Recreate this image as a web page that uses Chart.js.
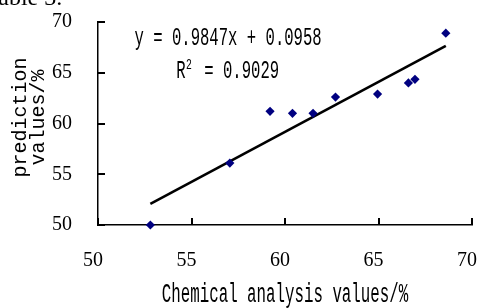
<!DOCTYPE html>
<html>
<head>
<meta charset="utf-8">
<script src="https://cdn.jsdelivr.net/npm/chart.js@4/dist/chart.umd.min.js"></script>
<style>
  html, body { margin: 0; padding: 0; background: #fff; }
  #wrap { width: 477px; height: 308px; position: relative; }
</style>
</head>
<body>
<div id="wrap"><canvas id="c"></canvas></div>
<script>
// ---- data ----
const chemicalValues   = [52.8, 57.05, 59.2, 60.4, 61.5, 62.7, 64.95, 66.6, 66.95, 68.6];
const predictionValues = [50.0, 56.1, 61.2, 61.0, 61.0, 62.6, 62.9, 64.0, 64.35, 68.9];
const xTicks = [50, 55, 60, 65, 70];
const yTicks = [50, 55, 60, 65, 70];
const trendSlope = 0.9847;
const trendIntercept = 0.0958;
const equationText = 'y = 0.9847x + 0.0958';
const r2Text = '0.9029';
const xTitle = 'Chemical analysis values/%';
const yTitle = ['prediction', 'values/%'];
const captionText = 'Table 3.';

// annotation anchors in data units
const eqAnchor = { x: 51.95, y: 67.75 };
const r2Anchor = { x: 54.18, y: 64.5 };

const points = chemicalValues.map((x, i) => ({ x: x, y: predictionValues[i] }));
const xMinData = Math.min(...chemicalValues);
const xMaxData = Math.max(...chemicalValues);
const trendPoints = [xMinData, xMaxData].map(x => ({ x: x, y: trendSlope * x + trendIntercept }));

function drawScaledText(ctx, text, x, y, size, sx, align) {
  ctx.save();
  ctx.translate(x, y);
  ctx.scale(sx, 1);
  ctx.font = size + 'px "Liberation Mono"';
  ctx.textBaseline = 'alphabetic';
  ctx.textAlign = align || 'left';
  ctx.fillStyle = '#000';
  ctx.fillText(text, 0, 0);
  const w = ctx.measureText(text).width * sx;
  ctx.restore();
  return w;
}

const decorPlugin = {
  id: 'decor',
  afterDraw(chart) {
    const ctx = chart.ctx;
    const xs = chart.scales.x, ys = chart.scales.y;
    const area = chart.chartArea;
    ctx.save();
    ctx.fillStyle = '#000';
    // inward tick marks
    yTicks.forEach(v => {
      const py = Math.round(ys.getPixelForValue(v));
      ctx.fillRect(Math.round(area.left), py - 1, 7, 2);
    });
    xTicks.forEach(v => {
      const px = Math.round(xs.getPixelForValue(v));
      ctx.fillRect(px - 1, Math.round(area.bottom) - 7, 2, 7);
    });
    // equation annotation
    const sx = 0.6, fs = 26;
    drawScaledText(ctx, equationText, xs.getPixelForValue(eqAnchor.x), ys.getPixelForValue(eqAnchor.y), fs, sx);
    let px = xs.getPixelForValue(r2Anchor.x);
    const py = ys.getPixelForValue(r2Anchor.y);
    px += drawScaledText(ctx, 'R', px, py, fs, sx);
    drawScaledText(ctx, '2', px + 0.5, py - 9, 15, 0.65);
    px += 9.4;
    drawScaledText(ctx, ' = ' + r2Text, px, py, fs, sx);
    // x axis title (tall, narrow monospace like the reference)
    drawScaledText(ctx, xTitle, (area.left + area.right) / 2, chart.height - 6, 27, 0.585, 'center');
    // cropped caption at the very top
    ctx.font = '24px "Liberation Serif"';
    ctx.fillStyle = '#000';
    ctx.textBaseline = 'alphabetic';
    ctx.textAlign = 'left';
    ctx.fillText(captionText, -14.7, 5);
    ctx.restore();
  }
};

new Chart(document.getElementById('c'), {
  type: 'scatter',
  data: {
    datasets: [
      {
        label: 'samples',
        data: points,
        pointStyle: 'rectRot',
        pointRadius: 4.6,
        pointHoverRadius: 4.6,
        backgroundColor: '#000080',
        borderColor: '#000080',
        borderWidth: 0,
        clip: false,
        order: 1
      },
      {
        type: 'line',
        label: 'trend',
        data: trendPoints,
        borderColor: '#000',
        borderWidth: 2.6,
        pointRadius: 0,
        fill: false,
        order: 2
      }
    ]
  },
  options: {
    responsive: true,
    maintainAspectRatio: false,
    animation: false,
    events: [],
    layout: { padding: { top: 22, right: 5, bottom: 0, left: 0 } },
    plugins: { legend: { display: false }, tooltip: { enabled: false } },
    scales: {
      x: {
        type: 'linear',
        min: 50, max: 70,
        afterBuildTicks(scale) { scale.ticks = xTicks.map(v => ({ value: v })); },
        afterFit(scale) { scale.height = 83; scale.paddingLeft = 0; scale.paddingRight = 0; },
        grid: { display: false, drawTicks: false },
        border: { display: true, color: '#000', width: 1.5 },
        ticks: {
          color: '#000',
          font: { family: '"Liberation Serif"', size: 20 },
          padding: 24,
          labelOffset: -5,
          maxRotation: 0
        },
        title: { display: false, text: xTitle }
      },
      y: {
        type: 'linear',
        min: 50, max: 70,
        afterBuildTicks(scale) { scale.ticks = yTicks.map(v => ({ value: v })); },
        afterFit(scale) { scale.width = 98; scale.paddingTop = 0; scale.paddingBottom = 0; },
        grid: { display: false, drawTicks: false },
        border: { display: true, color: '#000', width: 1.5 },
        ticks: {
          color: '#000',
          font: { family: '"Liberation Serif"', size: 20 },
          padding: 26
        },
        title: {
          display: true,
          text: yTitle.map(t => ' ' + t),
          color: '#000',
          font: { family: '"Liberation Mono"', size: 20, lineHeight: 0.9 },
          padding: { top: 12, bottom: 0 }
        }
      }
    }
  },
  plugins: [decorPlugin]
});
</script>
</body>
</html>
